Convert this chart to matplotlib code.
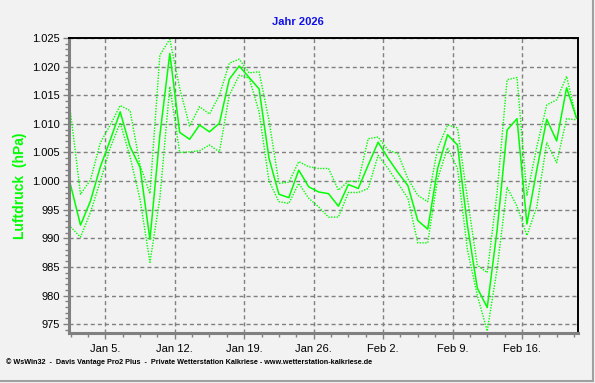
import numpy as np
import matplotlib.pyplot as plt
from matplotlib.ticker import FixedLocator, MultipleLocator
from matplotlib.lines import Line2D

plt.rcParams['font.family'] = ['Liberation Sans', 'DejaVu Sans']

# daily values, Jan 1 .. Feb 21 (hPa)
p_mean = [999.3, 992.3, 996.5, 1002.5, 1007.2, 1012.1, 1006.0, 1002.4, 989.8, 1008.0,
          1022.3, 1008.5, 1007.3, 1009.8, 1008.6, 1010.1, 1017.8, 1020.1, 1018.1, 1016.1,
          1004.0, 997.7, 997.1, 1001.9, 999.0, 998.1, 997.8, 995.6, 999.4, 998.7,
          1002.8, 1006.8, 1004.0, 1001.5, 999.2, 993.1, 991.6, 1002.2, 1008.1, 1006.3,
          992.3, 981.3, 977.9, 991.5, 1008.9, 1010.9, 992.5, 1002.0, 1010.8, 1007.0,
          1016.3, 1011.0]
p_max = [1011.9, 997.7, 1000.2, 1006.7, 1009.8, 1013.2, 1012.3, 1002.8, 997.8, 1022.0,
         1024.8, 1016.2, 1009.6, 1013.0, 1011.7, 1015.0, 1020.6, 1021.3, 1018.9, 1019.1,
         1010.6, 999.6, 999.8, 1003.4, 1002.5, 1002.2, 1002.2, 998.4, 1000.0, 999.9,
         1007.4, 1007.7, 1005.4, 1004.8, 1000.4, 997.5, 996.4, 1005.7, 1009.8, 1009.3,
         997.0, 985.3, 984.0, 998.1, 1017.7, 1018.1, 997.5, 1006.0, 1013.3, 1014.2,
         1018.3, 1010.9]
p_min = [992.0, 990.2, 994.5, 1000.0, 1005.8, 1010.2, 1004.2, 996.8, 985.8, 997.0,
         1016.5, 1005.0, 1005.1, 1005.3, 1006.3, 1005.1, 1015.0, 1018.5, 1018.0, 1012.1,
         1000.0, 996.4, 996.1, 999.6, 997.0, 995.5, 993.7, 993.7, 998.0, 998.0,
         998.7, 1004.5, 1002.2, 999.6, 997.0, 989.2, 989.2, 1000.4, 1005.8, 1002.2,
         988.0, 980.0, 973.8, 984.7, 998.9, 995.6, 990.5, 995.5, 1006.7, 1003.2,
         1010.9, 1010.7]

week_days = [4, 11, 18, 25, 32, 39, 46]   # days after Jan 1
week_labels = ['Jan 5.', 'Jan 12.', 'Jan 19.', 'Jan 26.', 'Feb 2.', 'Feb 9.', 'Feb 16.']
y_ticks = [975, 980, 985, 990, 995, 1000, 1005, 1010, 1015, 1020, 1025]
y_labels = ['975', '980', '985', '990', '995', '1.000', '1.005', '1.010', '1.015', '1.020', '1.025']

days = np.arange(len(p_mean)) + 0.5   # noon of each day
green = '#00FF00'
bg = '#F2F2F2'

fig = plt.figure(figsize=(5.95, 3.83), dpi=100, facecolor=bg)
ax = fig.add_axes([0.1168, 0.1313, 0.8538, 0.7695], facecolor=bg)

ax.grid(True, color='#808080', linestyle=(0, (2.9, 2.2)), linewidth=1.0)
ax.set_axisbelow(True)

ax.plot(days, p_max, color=green, lw=1.0, linestyle=(0, (1, 1)))
ax.plot(days, p_min, color=green, lw=1.0, linestyle=(0, (1, 1)))
ax.plot(days, p_mean, color=green, lw=1.1)

ax.set_xlim(0.39, 51.6)
ax.set_ylim(973.5, 1025)

ax.xaxis.set_major_locator(FixedLocator(week_days))
ax.set_xticklabels(week_labels)
ax.xaxis.set_minor_locator(FixedLocator(np.arange(0.5, 52, 1.75)))
ax.set_yticks(y_ticks)
ax.set_yticklabels(y_labels)
ax.yaxis.set_minor_locator(MultipleLocator(1))

ax.tick_params(axis='both', which='major', length=4, width=1, color='#808080',
               labelsize=8, labelcolor='black', pad=3)
ax.tick_params(axis='both', which='minor', length=3, width=1, color='#808080')
ax.tick_params(axis='x', which='major', pad=4)

for s in ['left', 'bottom']:
    ax.spines[s].set_color('#808080')
    ax.spines[s].set_linewidth(2.2)
for s in ['top', 'right']:
    ax.spines[s].set_color('black')
    ax.spines[s].set_linewidth(1.4)

ax.set_ylabel('Luftdruck  (hPa)', color=green, fontsize=10, fontweight='bold')
ax.yaxis.set_label_coords(-0.083, 0.5)

fig.text(0.5, 0.943, 'Jahr 2026', color='#1010E8', fontsize=8, fontweight='bold',
         ha='center', va='center')
fig.text(0.01, 0.055, '\u00a9 WsWin32  -  Davis Vantage Pro2 Plus  -  Private Wetterstation '
         'Kalkriese - www.wetterstation-kalkriese.de', fontsize=5.2, fontweight='bold',
         ha='left', va='center')

# outer frame shadow (right and bottom)
fig.add_artist(Line2D([0.0, 0.996], [0.004, 0.004], color='#A0A0A0', lw=1.5))
fig.add_artist(Line2D([0.996, 0.996], [0.004, 1.0], color='#A0A0A0', lw=1.5))

fig.savefig('out.png', dpi=100, facecolor=bg)
